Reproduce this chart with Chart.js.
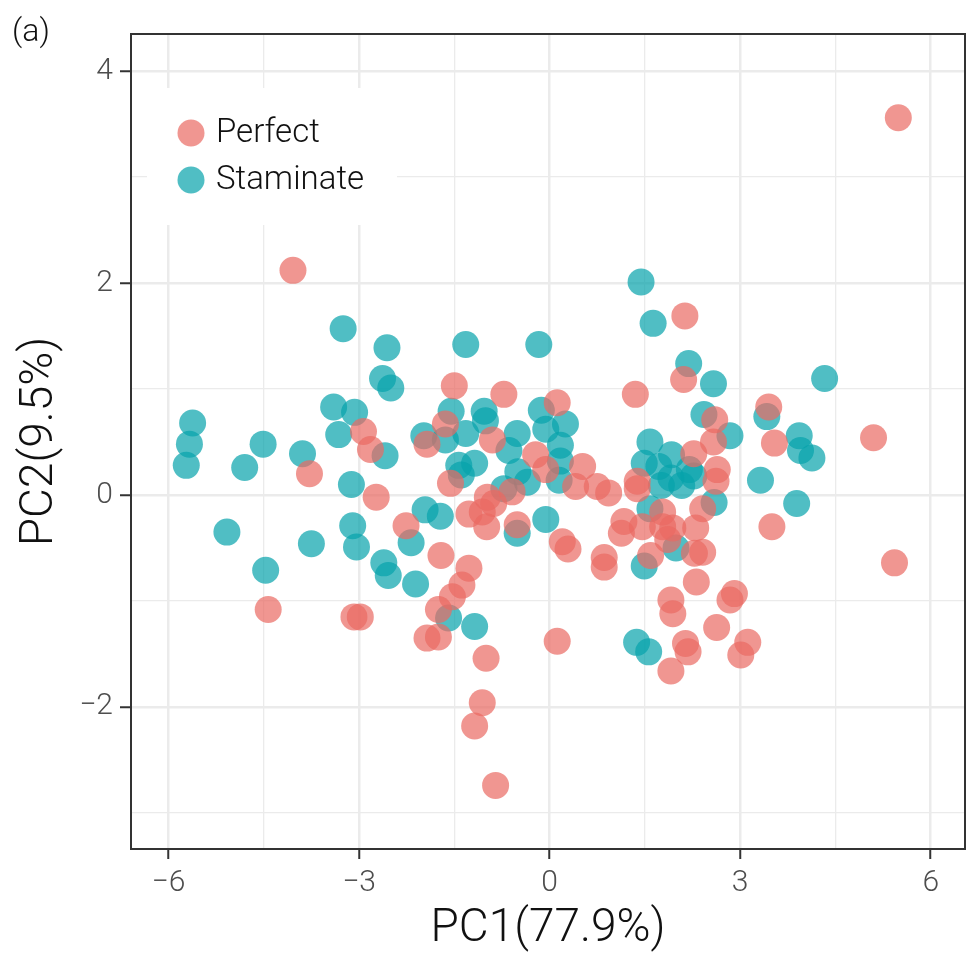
<!DOCTYPE html>
<html>
<head>
<meta charset="utf-8">
<script src="https://cdn.jsdelivr.net/npm/chart.js@4"></script>
<style>
  body { margin: 0; background: #fff; }
  #wrap { width: 967px; height: 954px; }
</style>
</head>
<body>
<div id="wrap"><canvas id="myChart" width="967" height="954"></canvas></div>
<script>
// Perfect flowers (PC1, PC2)
const perfectX = [-4.04, -2.93, -2.82, -3.78, -2.73, -2.26, -4.43, -3.08, -2.98, -1.50,
  -0.72, 0.12, -1.64, -1.93, -0.90, -0.22, -0.06, 0.52, 0.41, 0.75,
  0.93, -1.56, -0.59, -0.98, -0.88, -1.27, -1.06, -0.99, -0.51, 0.20,
  0.29, 0.86, 0.86, -1.71, -1.27, -1.38, -1.53, -1.75, -1.93, -1.75,
  0.12, -1.00, -1.06, -1.18, -0.85, 2.13, 2.11, 1.35, 2.60, 3.45,
  2.58, 3.54, 2.27, 2.64, 2.62, 1.38, 1.38, 2.41, 1.78, 1.17,
  1.13, 1.46, 1.78, 1.94, 2.30, 1.86, 2.28, 2.41, 1.59, 3.50,
  2.31, 2.84, 2.91, 1.91, 1.94, 2.63, 2.14, 2.18, 3.12, 3.01,
  1.91, 5.10, 5.43, 5.49]
const perfectY = [2.12, 0.60, 0.43, 0.20, -0.02, -0.29, -1.08, -1.15, -1.15, 1.03,
  0.95, 0.87, 0.67, 0.48, 0.52, 0.38, 0.24, 0.27, 0.08, 0.08,
  0.02, 0.11, 0.03, -0.02, -0.08, -0.18, -0.16, -0.30, -0.28, -0.44,
  -0.51, -0.59, -0.68, -0.57, -0.69, -0.85, -0.96, -1.08, -1.35, -1.34,
  -1.38, -1.54, -1.96, -2.18, -2.74, 1.69, 1.09, 0.95, 0.71, 0.83,
  0.50, 0.49, 0.39, 0.24, 0.13, 0.13, 0.06, -0.13, -0.16, -0.25,
  -0.36, -0.30, -0.30, -0.31, -0.31, -0.42, -0.55, -0.54, -0.57, -0.30,
  -0.82, -0.99, -0.93, -0.99, -1.12, -1.25, -1.40, -1.48, -1.39, -1.51,
  -1.66, 0.54, -0.64, 3.56]

// Staminate flowers (PC1, PC2)
const staminateX = [-3.25, -2.56, -2.63, -2.50, -3.40, -3.07, -3.32, -2.59, -5.62, -5.67,
  -5.72, -4.51, -4.80, -3.89, -3.12, -2.18, -5.08, -3.75, -3.10, -3.04,
  -2.61, -2.54, -2.11, -4.47, -1.32, -0.17, -1.55, -1.03, -0.13, 0.25,
  -0.06, -1.98, -1.64, -1.32, -1.01, -0.51, -0.64, 0.17, 0.17, 0.15,
  -1.43, -1.18, -1.39, -0.50, -0.35, -0.72, -0.51, -0.06, -1.96, -1.72,
  -1.59, -1.18, 1.44, 1.63, 2.19, 2.58, 2.43, 3.42, 2.84, 1.58,
  1.92, 1.49, 1.72, 2.20, 1.91, 1.76, 2.08, 2.27, 3.32, 2.59,
  1.58, 1.99, 1.49, 1.37, 1.56, 4.33, 3.93, 3.95, 4.13, 3.89]
const staminateY = [1.57, 1.39, 1.10, 1.01, 0.83, 0.78, 0.57, 0.37, 0.68, 0.48,
  0.28, 0.48, 0.26, 0.39, 0.10, -0.45, -0.35, -0.46, -0.29, -0.49,
  -0.64, -0.76, -0.84, -0.71, 1.42, 1.42, 0.79, 0.79, 0.80, 0.67,
  0.62, 0.56, 0.52, 0.58, 0.70, 0.58, 0.42, 0.47, 0.32, 0.14,
  0.28, 0.30, 0.19, 0.22, 0.12, 0.06, -0.36, -0.23, -0.14, -0.20,
  -1.16, -1.24, 2.01, 1.62, 1.24, 1.05, 0.76, 0.74, 0.56, 0.50,
  0.38, 0.30, 0.27, 0.24, 0.16, 0.09, 0.09, 0.18, 0.14, -0.07,
  -0.13, -0.50, -0.67, -1.39, -1.48, 1.10, 0.56, 0.42, 0.35, -0.08]

const xTicks = [-6, -4.5, -3, -1.5, 0, 1.5, 3, 4.5, 6]
const yTicks = [-3, -2, -1, 0, 1, 2, 3, 4]
const xMajor = 3
const yMajor = 2

const redFill = 'rgba(234, 105, 98, 0.7)'
const tealFill = 'rgba(5, 162, 171, 0.7)'
const fontFamily = 'Roboto, "Liberation Sans", sans-serif'

function toPoints(xs, ys) {
    return xs.map((x, i) => ({ x: x, y: ys[i] }))
}

function isMajor(v, step) {
    return Math.abs(v / step - Math.round(v / step)) < 1e-6
}

function label(v) {
    return v < 0 ? '\u2212' + Math.abs(v) : String(v)
}

// white box + legend inside the panel, plus frame and panel tag
const decorations = {
    id: 'decorations',
    beforeDatasetsDraw(chart) {
        const ctx = chart.ctx
        ctx.save()
        ctx.fillStyle = '#fff'
        ctx.fillRect(147, 88, 250, 137)
        chart.data.datasets.forEach((ds, i) => {
            const cy = 133 + i * 47
            ctx.beginPath()
            ctx.arc(191, cy, 13.5, 0, Math.PI * 2)
            ctx.fillStyle = ds.backgroundColor
            ctx.fill()
            ctx.fillStyle = '#111'
            ctx.font = '300 33px ' + fontFamily
            ctx.textBaseline = 'middle'
            ctx.fillText(ds.label, 216, cy + 1)
        })
        ctx.restore()
    },
    afterDraw(chart) {
        const ctx = chart.ctx
        const a = chart.chartArea
        ctx.save()
        ctx.strokeStyle = '#333'
        ctx.lineWidth = 2
        ctx.strokeRect(a.left, a.top, a.right - a.left, a.bottom - a.top)
        ctx.fillStyle = '#111'
        ctx.font = '300 32px ' + fontFamily
        ctx.textBaseline = 'middle'
        ctx.fillText('(a)', 12, 33)
        ctx.restore()
    }
}

const data = {
    datasets: [{
        label: 'Perfect',
        data: toPoints(perfectX, perfectY),
        backgroundColor: redFill,
        borderWidth: 0,
        pointRadius: 13.5,
        pointHoverRadius: 13.5
    }, {
        label: 'Staminate',
        data: toPoints(staminateX, staminateY),
        backgroundColor: tealFill,
        borderWidth: 0,
        pointRadius: 13.5,
        pointHoverRadius: 13.5
    }]
}

const config = {
    type: 'scatter',
    data: data,
    options: {
        responsive: false,
        animation: false,
        devicePixelRatio: 1,
        events: [],
        layout: { autoPadding: false, padding: { top: 34, right: 2, bottom: 0, left: 0 } },
        plugins: {
            legend: { display: false },
            tooltip: { enabled: false }
        },
        scales: {
            x: {
                type: 'linear',
                min: -6.59,
                max: 6.54,
                afterBuildTicks: (scale) => { scale.ticks = xTicks.map(v => ({ value: v })) },
                afterFit: (scale) => {
                    scale.height = 105
                    scale.paddingLeft = 0
                    scale.paddingRight = 0
                },
                border: { display: false },
                grid: {
                    color: '#EBEBEB',
                    lineWidth: (c) => isMajor(c.tick.value, xMajor) ? 2.5 : 1.3,
                    tickColor: (c) => isMajor(c.tick.value, xMajor) ? '#333' : 'rgba(0,0,0,0)',
                    tickWidth: 2,
                    tickLength: 10
                },
                ticks: {
                    autoSkip: false,
                    maxRotation: 0,
                    padding: 6,
                    color: '#4D4D4D',
                    font: { family: fontFamily, size: 30, weight: '300' },
                    callback: (v) => isMajor(v, xMajor) ? label(v) : ''
                },
                title: {
                    display: true,
                    text: 'PC1(77.9%)',
                    color: '#111',
                    font: { family: fontFamily, size: 46, weight: '300', lineHeight: 1.0 },
                    padding: { top: 0, bottom: 2 }
                }
            },
            y: {
                type: 'linear',
                min: -3.34,
                max: 4.35,
                afterBuildTicks: (scale) => { scale.ticks = yTicks.map(v => ({ value: v })) },
                afterFit: (scale) => {
                    scale.width = 131
                    scale.paddingTop = 0
                    scale.paddingBottom = 0
                },
                border: { display: false },
                grid: {
                    color: '#EBEBEB',
                    lineWidth: (c) => isMajor(c.tick.value, yMajor) ? 2.5 : 1.3,
                    tickColor: (c) => isMajor(c.tick.value, yMajor) ? '#333' : 'rgba(0,0,0,0)',
                    tickWidth: 2,
                    tickLength: 11
                },
                ticks: {
                    autoSkip: false,
                    padding: 7,
                    color: '#4D4D4D',
                    font: { family: fontFamily, size: 30, weight: '300' },
                    callback: (v) => isMajor(v, yMajor) ? label(v) : ''
                },
                title: {
                    display: true,
                    text: 'PC2(9.5%)',
                    color: '#111',
                    font: { family: fontFamily, size: 46, weight: '300', lineHeight: 1.0 },
                    padding: { top: 17, bottom: 0 }
                }
            }
        }
    },
    plugins: [decorations]
}

const myChart = new Chart(document.getElementById('myChart'), config)
</script>
</body>
</html>
